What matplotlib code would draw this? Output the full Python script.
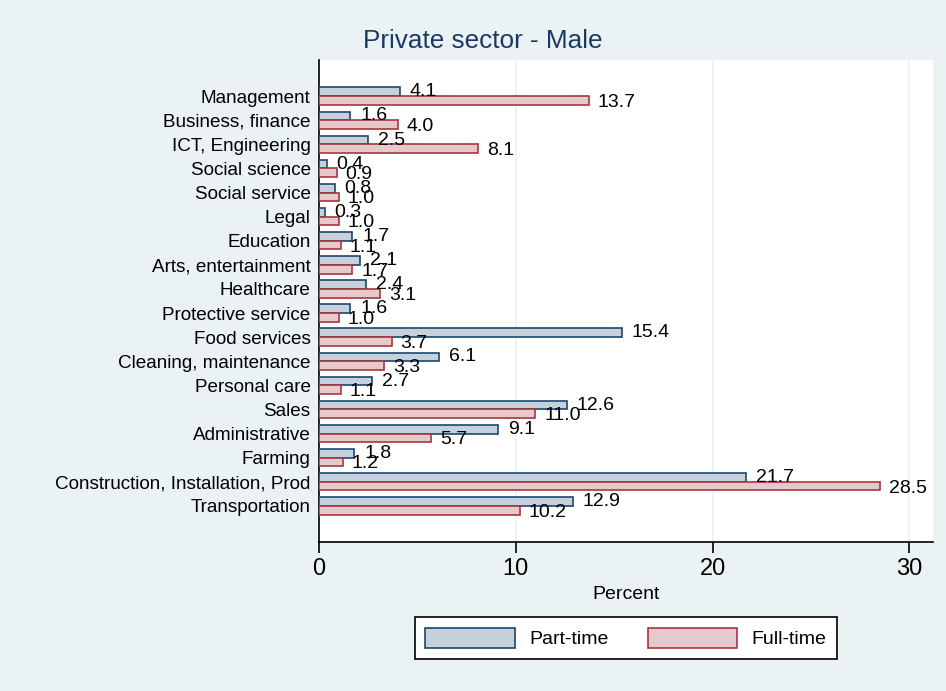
import matplotlib.pyplot as plt
import numpy as np

plt.rcParams['font.family'] = ['Liberation Sans', 'DejaVu Sans']

categories = ["Management", "Business, finance", "ICT, Engineering", "Social science",
              "Social service", "Legal", "Education", "Arts, entertainment", "Healthcare",
              "Protective service", "Food services", "Cleaning, maintenance", "Personal care",
              "Sales", "Administrative", "Farming", "Construction, Installation, Prod",
              "Transportation"]
part_time = [4.1, 1.6, 2.5, 0.4, 0.8, 0.3, 1.7, 2.1, 2.4, 1.6, 15.4, 6.1, 2.7, 12.6, 9.1, 1.8, 21.7, 12.9]
full_time = [13.7, 4.0, 8.1, 0.9, 1.0, 1.0, 1.1, 1.7, 3.1, 1.0, 3.7, 3.3, 1.1, 11.0, 5.7, 1.2, 28.5, 10.2]

bg = "#EAF2F3"
fig = plt.figure(figsize=(9.46, 6.91), dpi=100, facecolor=bg)
ax = fig.add_axes([319 / 946, 1 - 542 / 691, (933 - 319) / 946, (542 - 60) / 691])

y = np.arange(len(categories))
h = 0.36
ax.barh(y - h / 2, part_time, height=h, color="#C6D1DC", edgecolor="#1A476F", linewidth=1.2,
        label="Part-time", zorder=3)
ax.barh(y + h / 2, full_time, height=h, color="#E6C9CD", edgecolor="#A8363F", linewidth=1.2,
        label="Full-time", zorder=3)

# value labels just right of each bar
for yi, v in zip(y, part_time):
    ax.text(v + 0.5, yi - h / 2, f"{v:.1f}", va="center", ha="left", fontsize=14, zorder=4)
for yi, v in zip(y, full_time):
    ax.text(v + 0.45, yi + h / 2 + 0.08, f"{v:.1f}", va="center", ha="left", fontsize=14, zorder=4)

ax.set_ylim(len(categories) - 0.5 + 1.0, -1.5)
ax.set_xlim(0, 31.2)
ax.set_yticks(y)
ax.set_yticklabels(categories, fontsize=13.6)
ax.tick_params(axis="y", length=0, pad=6)
ax.set_xticks([0, 10, 20, 30])
ax.tick_params(axis="x", labelsize=17, length=8, width=1.2, direction="out")
ax.grid(axis="x", color=bg, linewidth=1.2, zorder=0)
ax.set_xlabel("Percent", fontsize=14, labelpad=4)
for s in ["top", "right"]:
    ax.spines[s].set_visible(False)
ax.spines["left"].set_linewidth(1.2)
ax.spines["bottom"].set_linewidth(1.2)

fig.text(483 / 946, 1 - 41 / 691, "Private sector - Male", ha="center", va="center",
         fontsize=18.8, color="#1A3A66")

leg = fig.legend(loc="center", bbox_to_anchor=(626 / 946, 1 - 638 / 691), ncol=2,
                 fontsize=14, frameon=True, fancybox=False, edgecolor="black", framealpha=1,
                 handlelength=4.6, handleheight=1.2, columnspacing=2.0, handletextpad=0.75,
                 borderpad=0.55, borderaxespad=0)
leg.get_frame().set_linewidth(1.2)
leg.get_frame().set_facecolor("white")

fig.savefig("out.png", dpi=100, facecolor=bg)
